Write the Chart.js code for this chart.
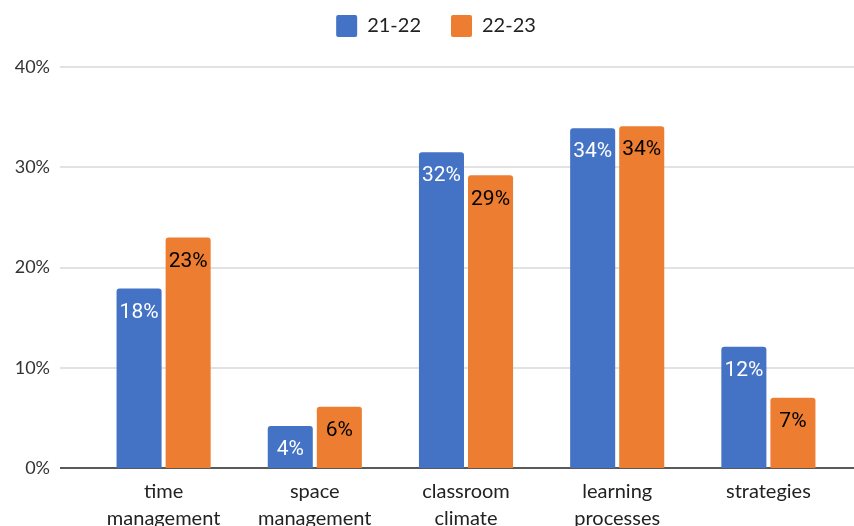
<!DOCTYPE html>
<html>
<head>
<meta charset="utf-8">
<script src="https://cdn.jsdelivr.net/npm/chart.js@4"></script>
<style>
  html, body { margin: 0; padding: 0; background: #fff; overflow: hidden; }
  #wrap { width: 854px; height: 526px; overflow: hidden; }
</style>
</head>
<body>
<div id="wrap"><canvas id="chart1" width="854" height="542" style="width:854px;height:542px"></canvas></div>
<script>
// categories and values
const categories = [['time', 'management'], ['space', 'management'], ['classroom', 'climate'], ['learning', 'processes'], ['strategies']];
const seriesNames = ['21-22', '22-23'];
const values2122 = [17.9, 4.2, 31.5, 33.9, 12.1];
const values2223 = [23.0, 6.1, 29.2, 34.1, 7.0];
const yTicks = [0, 10, 20, 30, 40];

// light grid lines that run the full width, like the original
const gridPlugin = {
    id: 'fullGrid',
    beforeDatasetsDraw(chart) {
        const ctx = chart.ctx;
        const y = chart.scales.y;
        ctx.save();
        yTicks.forEach((t) => {
            const py = Math.round(y.getPixelForValue(t));
            ctx.beginPath();
            ctx.lineWidth = t === 0 ? 2 : 1.5;
            ctx.strokeStyle = t === 0 ? '#595959' : '#d9d9d9';
            ctx.moveTo(60, py);
            ctx.lineTo(chart.width, py);
            ctx.stroke();
        });
        ctx.restore();
    }
};

// value labels inside the top of each bar
const labelPlugin = {
    id: 'barLabels',
    afterDatasetsDraw(chart) {
        const ctx = chart.ctx;
        ctx.save();
        ctx.font = '21px Roboto';
        ctx.textAlign = 'center';
        ctx.textBaseline = 'middle';
        chart.data.datasets.forEach((ds, i) => {
            const meta = chart.getDatasetMeta(i);
            ctx.fillStyle = i === 0 ? '#ffffff' : '#000000';
            meta.data.forEach((bar, j) => {
                ctx.fillText(Math.round(ds.data[j]) + '%', bar.x, bar.y + 24);
            });
        });
        ctx.restore();
    }
};

// legend: fixed height so the plot starts lower, and nudge it into place
const legendSpace = {
    id: 'legendSpace',
    beforeInit(chart) {
        const fit = chart.legend.fit;
        chart.legend.fit = function () {
            fit.call(this);
            this.height = 62;
        };
    },
    beforeDraw(chart) {
        const lg = chart.legend;
        if (!lg._moved) {
            lg.top -= 20;
            lg.bottom -= 20;
            lg.left += 14;
            lg.right += 14;
            lg._moved = true;
        }
    },
    afterUpdate(chart) {
        chart.legend._moved = false;
    }
};

const chart = new Chart(document.querySelector('#chart1'), {
    type: 'bar',
    data: {
        labels: categories,
        datasets: [
            {
                label: seriesNames[0],
                data: values2122,
                backgroundColor: '#4472C4',
                borderRadius: { topLeft: 3, topRight: 3 },
                borderSkipped: 'bottom',
                categoryPercentage: 0.649,
                barPercentage: 0.918
            },
            {
                label: seriesNames[1],
                data: values2223,
                backgroundColor: '#ED7D31',
                borderRadius: { topLeft: 3, topRight: 3 },
                borderSkipped: 'bottom',
                categoryPercentage: 0.649,
                barPercentage: 0.918
            }
        ]
    },
    options: {
        responsive: false,
        animation: false,
        layout: { padding: { top: 5, right: 10, left: 0, bottom: 0 } },
        plugins: {
            tooltip: { enabled: false },
            legend: {
                position: 'top',
                labels: {
                    boxWidth: 21,
                    boxHeight: 22,
                    useBorderRadius: true,
                    borderRadius: 2,
                    padding: 30,
                    color: '#222',
                    font: { family: 'Lato', size: 20 }
                }
            }
        },
        scales: {
            x: {
                grid: { display: false, drawTicks: false },
                border: { display: false },
                ticks: {
                    color: '#222',
                    padding: 10,
                    maxRotation: 0,
                    autoSkip: false,
                    font: { family: 'Lato', size: 20, lineHeight: 1.35 }
                }
            },
            y: {
                min: 0,
                max: 40,
                grid: { display: false, drawTicks: false },
                border: { display: false },
                afterFit: (scale) => { scale.width = 88; },
                ticks: {
                    stepSize: 10,
                    padding: 38,
                    color: '#333',
                    font: { family: 'Lato', size: 18 },
                    callback: (v) => v + '%'
                }
            }
        }
    },
    plugins: [gridPlugin, labelPlugin, legendSpace]
});
</script>
</body>
</html>
